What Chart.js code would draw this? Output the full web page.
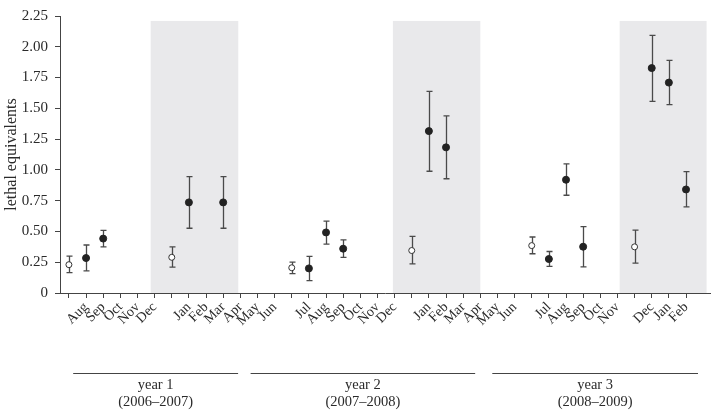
<!DOCTYPE html>
<html>
<head>
<meta charset="utf-8">
<script src="https://cdn.jsdelivr.net/npm/chart.js@4/dist/chart.umd.min.js"></script>
<style>
  html, body { margin: 0; padding: 0; background: #fff; }
  #wrap { width: 715px; height: 410px; }
</style>
</head>
<body>
<div id="wrap"><canvas id="c"></canvas></div>
<script>
// month tick labels, one per tick (empty = unlabelled tick)
const monthLabels = [
    '', 'Aug', 'Sep', 'Oct', 'Nov', 'Dec', '', 'Jan', 'Feb', 'Mar', 'Apr',
    'May', 'Jun', '', 'Jul', 'Aug', 'Sep', 'Oct', 'Nov', 'Dec', '', 'Jan', 'Feb', 'Mar', 'Apr',
    'May', 'Jun', '', 'Jul', 'Aug', 'Sep', 'Oct', 'Nov', '', 'Dec', 'Jan', 'Feb',
];

// open circles
const openIdx = [0, 6, 13, 20, 27, 33];
const openMean = [0.23, 0.29, 0.205, 0.345, 0.385, 0.375];
const openLow = [0.165, 0.21, 0.158, 0.237, 0.319, 0.242];
const openHigh = [0.30, 0.374, 0.25, 0.46, 0.455, 0.51];

// filled circles
const filledIdx = [1, 2, 7, 9, 14, 15, 16, 21, 22, 28, 29, 30, 34, 35, 36];
const filledMean = [0.284, 0.442, 0.736, 0.736, 0.20, 0.492, 0.36, 1.315, 1.183, 0.276, 0.92, 0.376, 1.827, 1.709, 0.841];
const filledLow = [0.179, 0.374, 0.526, 0.526, 0.10, 0.397, 0.289, 0.989, 0.928, 0.216, 0.794, 0.213, 1.557, 1.53, 0.70];
const filledHigh = [0.39, 0.508, 0.946, 0.946, 0.297, 0.584, 0.431, 1.638, 1.438, 0.337, 1.049, 0.539, 2.093, 1.89, 0.986];

// grey winter bands (tick index units) and their top (y units)
const winterFrom = [4.77, 18.9, 32.13];
const winterTo = [9.88, 24.0, 37.2];
const winterTop = 2.21;

// year brackets under the axis
const yearNames = ['year 1', 'year 2', 'year 3'];
const yearSpans = ['(2006\u20132007)', '(2007\u20132008)', '(2008\u20132009)'];
const yearFrom = [0.25, 10.6, 24.7];
const yearTo = [9.87, 23.7, 36.7];

const FONT = "'Liberation Serif', 'DejaVu Serif', serif";
const INK = '#2a2a2a';

const toPoints = (xs, ys) => xs.map((x, i) => ({ x, y: ys[i] }));

const winterBands = {
    id: 'winterBands',
    beforeDraw(chart) {
        const { ctx, scales: { x, y } } = chart;
        ctx.save();
        ctx.fillStyle = '#e9e9eb';
        winterFrom.forEach((from, i) => {
            const x0 = x.getPixelForValue(from);
            const x1 = x.getPixelForValue(winterTo[i]);
            const y0 = y.getPixelForValue(winterTop);
            const y1 = y.getPixelForValue(0);
            ctx.fillRect(x0, y0, x1 - x0, y1 - y0);
        });
        ctx.restore();
    },
};

const errorBars = {
    id: 'errorBars',
    beforeDatasetsDraw(chart) {
        const { ctx, scales: { x, y } } = chart;
        const sets = [
            [openIdx, openLow, openHigh],
            [filledIdx, filledLow, filledHigh],
        ];
        ctx.save();
        ctx.strokeStyle = '#4a4a4a';
        ctx.lineWidth = 1.3;
        sets.forEach(([xs, lo, hi]) => {
            xs.forEach((v, i) => {
                const px = Math.round(x.getPixelForValue(v)) + 0.5;
                const top = y.getPixelForValue(hi[i]);
                const bot = y.getPixelForValue(lo[i]);
                ctx.beginPath();
                ctx.moveTo(px, top);
                ctx.lineTo(px, bot);
                ctx.moveTo(px - 3, top);
                ctx.lineTo(px + 3, top);
                ctx.moveTo(px - 3, bot);
                ctx.lineTo(px + 3, bot);
                ctx.stroke();
            });
        });
        ctx.restore();
    },
};

const yearBrackets = {
    id: 'yearBrackets',
    afterDraw(chart) {
        const { ctx, chartArea, scales: { x } } = chart;
        const lineY = chartArea.bottom + 79.5;
        ctx.save();
        ctx.strokeStyle = '#444';
        ctx.lineWidth = 1;
        ctx.fillStyle = INK;
        ctx.font = '14.5px ' + FONT;
        ctx.textAlign = 'center';
        ctx.textBaseline = 'middle';
        yearFrom.forEach((from, i) => {
            const x0 = x.getPixelForValue(from);
            const x1 = x.getPixelForValue(yearTo[i]);
            ctx.beginPath();
            ctx.moveTo(x0, Math.round(lineY) + 0.5);
            ctx.lineTo(x1, Math.round(lineY) + 0.5);
            ctx.stroke();
            const mid = (x0 + x1) / 2;
            ctx.fillText(yearNames[i], mid, lineY + 13);
            ctx.fillText(yearSpans[i], mid, lineY + 30);
        });
        ctx.restore();
    },
};

new Chart(document.getElementById('c'), {
    type: 'scatter',
    data: {
        datasets: [
            {
                label: 'open',
                data: toPoints(openIdx, openMean),
                pointRadius: 3,
                pointBackgroundColor: '#fff',
                pointBorderColor: '#333',
                pointBorderWidth: 1,
            },
            {
                label: 'filled',
                data: toPoints(filledIdx, filledMean),
                pointRadius: 3.5,
                pointBackgroundColor: '#222',
                pointBorderColor: '#222',
                pointBorderWidth: 1,
            },
        ],
    },
    options: {
        responsive: true,
        maintainAspectRatio: false,
        animation: false,
        layout: { padding: { top: 8, right: 3, left: 0, bottom: 0 } },
        plugins: {
            legend: { display: false },
            tooltip: { enabled: false },
        },
        scales: {
            x: {
                type: 'linear',
                min: -0.52,
                max: 37.4,
                afterBuildTicks: (axis) => {
                    axis.ticks = monthLabels.map((_, i) => ({ value: i }));
                },
                afterFit: (axis) => { axis.height = 117; },
                grid: { display: true, drawOnChartArea: false, tickLength: 5, color: '#444' },
                border: { display: true, color: '#444', width: 1 },
                ticks: {
                    autoSkip: false,
                    minRotation: 45,
                    maxRotation: 45,
                    padding: 1,
                    color: INK,
                    font: { family: FONT, size: 14 },
                    callback: (v) => monthLabels[v] ?? '',
                },
            },
            y: {
                min: 0,
                max: 2.25,
                afterFit: (axis) => { axis.width = 60; },
                grid: { display: true, drawOnChartArea: false, tickLength: 5, color: '#444' },
                border: { display: true, color: '#444', width: 1 },
                ticks: {
                    stepSize: 0.25,
                    padding: 7,
                    color: INK,
                    font: { family: FONT, size: 15 },
                    callback: (v) => (v === 0 ? '0' : v.toFixed(2)),
                },
                title: {
                    display: true,
                    text: 'lethal equivalents',
                    color: INK,
                    font: { family: FONT, size: 16 },
                    padding: { top: 2, bottom: 0 },
                },
            },
        },
    },
    plugins: [winterBands, errorBars, yearBrackets],
});
</script>
</body>
</html>
